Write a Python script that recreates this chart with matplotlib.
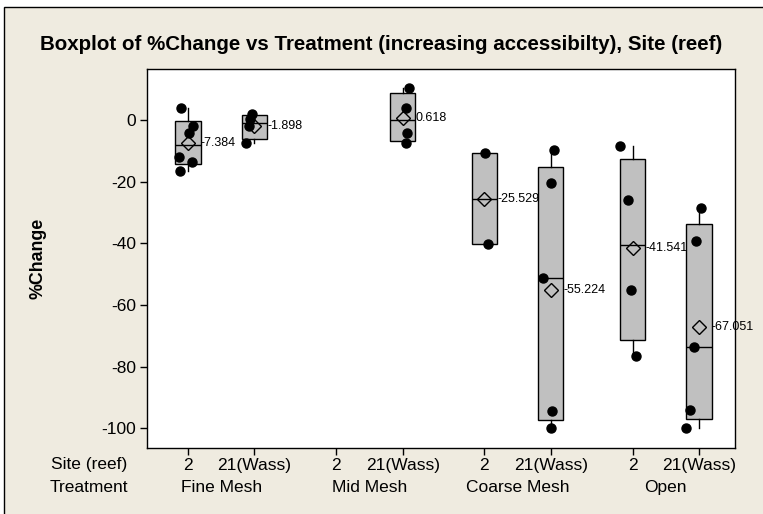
import numpy as np
import matplotlib.pyplot as plt
from matplotlib.patches import Rectangle

plt.rcParams['font.family'] = ['Liberation Sans', 'DejaVu Sans']
plt.rcParams['axes.unicode_minus'] = False

# Данные
treatments = ['Fine Mesh', 'Mid Mesh', 'Coarse Mesh', 'Open']
sites = ['2', '21(Wass)']

fine_2 = [3.8, -1.9, -4.1, -12.1, -13.5, -16.5]
fine_21 = [1.81, 0.3, -2.1, -7.6]
mid_2 = []
mid_21 = [10.2, 4.0, -4.13, -7.6]
coarse_2 = [-10.8, -40.26]
coarse_21 = [-9.7, -20.6, -51.4, -94.4, -100.0]
open_2 = [-8.4, -26.0, -55.1, -76.66]
open_21 = [-28.45, -39.2, -73.6, -94.0, -100.0]

# Разброс точек по горизонтали (как на исходнике)
jit_fine_2 = [-0.105, 0.08, 0.02, -0.13, 0.056, -0.12]
jit_fine_21 = [-0.03, -0.06, -0.08, -0.12]
jit_mid_2 = []
jit_mid_21 = [0.095, 0.055, 0.07, 0.055]
jit_coarse_2 = [0.003, 0.057]
jit_coarse_21 = [0.045, 0.005, -0.115, 0.02, 0.005]
jit_open_2 = [-0.19, -0.063, -0.027, 0.053]
jit_open_21 = [0.025, -0.04, -0.075, -0.14, -0.2]

# Подписи средних значений
mean_labels = [-7.384, -1.898, None, 0.618, -25.529, -55.224, -41.541, -67.051]

groups = [fine_2, fine_21, mid_2, mid_21, coarse_2, coarse_21, open_2, open_21]
jitters = [jit_fine_2, jit_fine_21, jit_mid_2, jit_mid_21,
           jit_coarse_2, jit_coarse_21, jit_open_2, jit_open_21]

gap = 2.23
positions = [g * gap + s for g in range(4) for s in range(2)]
width = 0.38

fig = plt.figure(figsize=(7.63, 5.14), dpi=100, facecolor='white')
fig.patches.append(Rectangle((4 / 763, -0.05), 1.1, 1 - 7 / 514 + 0.05,
                             transform=fig.transFigure, facecolor='#EFEBE0',
                             edgecolor='black', linewidth=1.0, zorder=-1))
ax = fig.add_axes([146.7 / 763, 1 - 447.7 / 514, (735 - 146.7) / 763, (447.7 - 69) / 514])
ax.set_facecolor('white')

# Статистики ящиков (квартили как в Minitab)
stats = []
stat_pos = []
for vals, p in zip(groups, positions):
    if len(vals) == 0:
        continue
    v = np.array(vals)
    q1, med, q3 = np.percentile(v, [25, 50, 75], method='weibull')
    stats.append(dict(med=med, q1=q1, q3=q3, whislo=v.min(), whishi=v.max(), fliers=[]))
    stat_pos.append(p)

ax.bxp(stats, positions=stat_pos, widths=width, patch_artist=True, showcaps=False,
       boxprops=dict(facecolor='#C0C0C0', edgecolor='black', linewidth=1.0),
       medianprops=dict(color='black', linewidth=1.0),
       whiskerprops=dict(color='black', linewidth=1.0), manage_ticks=False)

for vals, jit, p, m in zip(groups, jitters, positions, mean_labels):
    if len(vals) == 0:
        continue
    ax.plot(p, m, marker='D', markersize=7, mfc='none', mec='black', mew=1.0, zorder=4)
    ax.plot(np.array(jit) + p, vals, 'o', color='black', markersize=6.5, zorder=5)
    ax.text(p + width / 2, m, f'{m:.3f}', ha='left', va='center', fontsize=9, zorder=6)

ax.set_xlim(-0.62, 8.23)
ax.set_ylim(-106.3, 16.5)
ax.set_yticks([0, -20, -40, -60, -80, -100])
ax.set_xticks(positions)
ax.set_xticklabels(sites * 4)
ax.tick_params(axis='both', labelsize=12.5, length=5, width=1, color='black', pad=2.5)
for s in ax.spines.values():
    s.set_linewidth(1.0)

for g, name in enumerate(treatments):
    ax.text(g * gap + 0.5, -0.104, name, transform=ax.get_xaxis_transform(),
            ha='center', va='center', fontsize=12.5)
fig.text(89 / 763, 1 - 465 / 514, 'Site (reef)', ha='center', va='center', fontsize=12.5)
fig.text(89 / 763, 1 - 487 / 514, 'Treatment', ha='center', va='center', fontsize=12.5)

fig.text(38 / 763, 1 - 258 / 514, '%Change', rotation=90, ha='center', va='center',
         fontsize=12.8, fontweight='bold')
fig.text(0.5, 1 - 45 / 514, 'Boxplot of %Change vs Treatment (increasing accessibilty), Site (reef)',
         ha='center', va='center', fontsize=14.8, fontweight='bold')

fig.savefig('out.png', dpi=100)
